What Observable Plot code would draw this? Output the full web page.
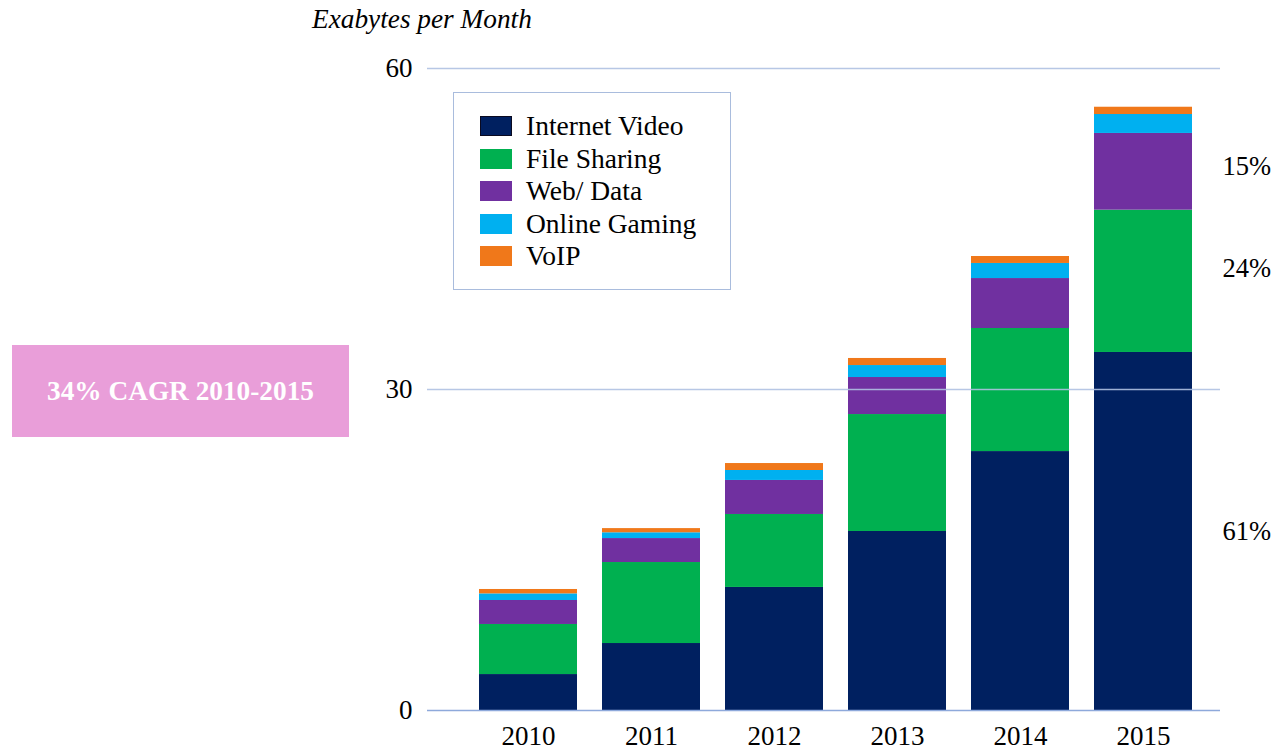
<!DOCTYPE html>
<html>
<head>
<meta charset="utf-8">
<script src="https://cdn.jsdelivr.net/npm/d3@7"></script>
<script src="https://cdn.jsdelivr.net/npm/@observablehq/plot@0.6"></script>
<style>
  html, body { margin: 0; padding: 0; background: #fff; }
  #wrap { position: relative; width: 1274px; height: 750px; overflow: hidden;
          font-family: "Liberation Serif", "Times New Roman", serif; color: #000; }
  #chart { position: absolute; left: 0; top: 0; }
  #title { position: absolute; left: 312px; top: 6px; font-size: 27.3px; line-height: 27px;
           font-style: italic; white-space: nowrap; }
  #cagr { position: absolute; left: 12px; top: 345px; width: 337px; height: 92px;
          background: #E99ED9; color: #fff; font-weight: bold; font-size: 27.3px;
          display: flex; align-items: center; justify-content: center; white-space: nowrap; }
  #legend { position: absolute; left: 453px; top: 92px; width: 278px; height: 198px;
            box-sizing: border-box; border: 1px solid #A9BCDD; background: #fff; }
  .row { position: absolute; left: 26px; height: 20px; display: flex; align-items: center;
         font-size: 27.5px; white-space: nowrap; }
  .sw { width: 32px; height: 20px; margin-right: 14px; box-sizing: border-box; }
</style>
</head>
<body>
<div id="wrap">
  <div id="chart"></div>
  <div id="title"></div>
  <div id="cagr"></div>
  <div id="legend"></div>
</div>
<script>
// ---- data (Exabytes per month) ----
const years = ["2010", "2011", "2012", "2013", "2014", "2015"];
const series = ["Internet Video", "File Sharing", "Web/ Data", "Online Gaming", "VoIP"];
const seriesColors = ["#002060", "#00B050", "#7030A0", "#00B0F0", "#F0781A"];
const internetVideo = [3.36, 6.26, 11.50, 16.73, 24.20, 33.46];
const fileSharing   = [4.68, 7.57, 6.82, 10.93, 11.50, 13.30];
const webData       = [2.24, 2.24, 3.18, 3.46, 4.67, 7.17];
const onlineGaming  = [0.62, 0.54, 0.93, 1.12, 1.41, 1.77];
const voip          = [0.41, 0.39, 0.65, 0.66, 0.65, 0.68];
const yTicks = [0, 30, 60];
const shareLabels = ["61%", "24%", "15%"];   // 2015 shares: Internet Video, File Sharing, Web/Data
const titleText = "Exabytes per Month";
const cagrText = "34% CAGR 2010-2015";

const seriesValues = [internetVideo, fileSharing, webData, onlineGaming, voip];
const rows = [];
series.forEach((s, si) => years.forEach((y, yi) => rows.push({year: y, series: s, value: seriesValues[si][yi]})));

// midpoints of the 2015 segments for the share labels
const last = years.length - 1;
let base = 0;
const shareRows = shareLabels.map((label, i) => {
  const v = seriesValues[i][last];
  const mid = base + v / 2;
  base += v;
  return {label, mid, idx: i};
});
const shareDy = [0, -13, -5];

const chart = Plot.plot({
  width: 1274,
  height: 750,
  marginLeft: 427,
  marginRight: 54,
  marginTop: 68,
  marginBottom: 40,
  style: {fontFamily: "'Liberation Serif', 'Times New Roman', serif", fontSize: "27px", color: "#000", background: "transparent", overflow: "visible"},
  x: {domain: years, range: [464.5, 1207.5], paddingInner: 0.2, paddingOuter: 0.1, label: null, tickSize: 0, tickPadding: 15},
  y: {domain: [0, 60], ticks: yTicks, label: null, tickSize: 0, tickPadding: 15},
  color: {domain: series, range: seriesColors},
  marks: [
    Plot.barY(rows, Plot.stackY({x: "year", y: "value", fill: "series", order: series})),
    Plot.ruleY(yTicks.filter(d => d > 0), {stroke: "#AFC1E2", strokeWidth: 1.3, strokeOpacity: 0.9}),
    Plot.ruleY([0], {stroke: "#8EA9DB", strokeWidth: 1.3}),
    ...shareRows.map((r, i) => Plot.text([r], {y: "mid", text: "label", frameAnchor: "right", textAnchor: "start", dx: 2, dy: shareDy[i], fontSize: 26.5}))
  ]
});
document.getElementById("chart").appendChild(chart);

document.getElementById("title").textContent = titleText;
document.getElementById("cagr").textContent = cagrText;

const legend = document.getElementById("legend");
series.forEach((s, i) => {
  const row = document.createElement("div");
  row.className = "row";
  row.style.top = (23 + i * 32.5) + "px";
  const sw = document.createElement("div");
  sw.className = "sw";
  sw.style.background = seriesColors[i];
  if (i === 0) sw.style.border = "1px solid #0a0a20";
  const t = document.createElement("span");
  t.textContent = s;
  row.appendChild(sw);
  row.appendChild(t);
  legend.appendChild(row);
});
</script>
</body>
</html>
